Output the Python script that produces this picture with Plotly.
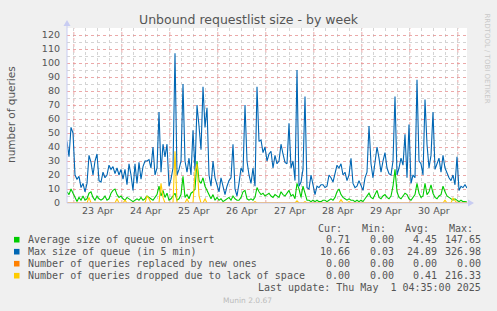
import pandas as pd
import plotly.graph_objects as go

# ---------------- data (hourly samples) ----------------
start_time = "2025-04-22 20:35"
end_time = "2025-05-01 04:35"

avg_queue = [
    8, 6, 10, 7, 3, 1, 4, 2, 5, 2,
    3, 7, 8, 4, 2, 5, 3, 2, 3, 5,
    2, 3, 7, 9, 10, 6, 4, 5, 3, 2,
    4, 3, 2, 1, 2, 3, 2, 4, 2, 3,
    5, 4, 3, 2, 4, 6, 12, 5, 9, 4,
    7, 2, 3, 5, 7, 2, 3, 6, 19, 4,
    6, 3, 7, 8, 10, 30, 16, 14, 18, 12,
    9, 5, 3, 6, 2, 4, 2, 3, 1, 2,
    3, 4, 2, 5, 3, 2, 2, 4, 8, 9,
    3, 2, 3, 2, 4, 11, 8, 6, 7, 5,
    6, 7, 5, 4, 6, 5, 4, 8, 6, 5,
    7, 9, 5, 6, 3, 14, 10, 4, 12, 6,
    2, 2, 1, 2, 1, 2, 1, 1, 2, 2,
    1, 2, 3, 2, 4, 8, 10, 6, 4, 3,
    2, 3, 2, 2, 1, 2, 1, 2, 1, 3,
    5, 7, 4, 3, 6, 9, 4, 3, 5, 6,
    4, 3, 5, 12, 24, 8, 4, 3, 5, 7,
    6, 3, 2, 4, 6, 14, 7, 4, 5, 14,
    6, 8, 13, 7, 4, 3, 5, 6, 12, 8,
    5, 4, 3, 2, 3, 2, 1, 2, 1, 1,
    0.71,
]

max_queue = [
    44, 33, 54, 50, 20, 17, 19, 11, 14, 8,
    14, 34, 29, 20, 30, 35, 16, 15, 22, 18,
    20, 27, 24, 26, 21, 25, 20, 24, 17, 24,
    13, 28, 20, 9, 28, 14, 29, 17, 26, 30,
    30, 31, 25, 40, 20, 25, 65, 22, 42, 33,
    42, 12, 17, 25, 107, 20, 24, 30, 85, 30,
    22, 32, 20, 52, 23, 70, 55, 38, 83, 54,
    68, 20, 12, 30, 18, 12, 8, 18, 12, 6,
    12, 16, 18, 42, 10, 5, 14, 25, 22, 70,
    30, 20, 14, 25, 12, 83, 44, 45, 36, 40,
    30, 35, 37, 25, 34, 28, 30, 42, 35, 29,
    28, 57, 25, 30, 16, 95, 12, 15, 24, 76,
    11, 10, 20, 12, 6, 12, 11, 13, 13, 11,
    12, 20, 18, 15, 22, 27, 25, 28, 20, 22,
    16, 20, 32, 14, 11, 12, 16, 12, 9, 18,
    22, 55, 28, 18, 30, 40, 32, 22, 30, 36,
    25, 21, 20, 30, 76, 20, 25, 32, 27, 49,
    18, 56, 14, 20, 18, 88, 30, 28, 20, 74,
    42, 25, 34, 65, 24, 28, 32, 22, 34, 25,
    21, 18, 16, 20, 13, 33, 9, 12, 11, 13,
    10.66,
]

replaced = [0] * 201

dropped = [
    0, 0, 0, 0, 0, 0, 0, 0, 0, 0,
    0, 4, 0, 0, 0, 0, 0, 0, 0, 0,
    0, 0, 0, 0, 0, 3, 0, 0, 0, 2,
    0, 0, 0, 0, 0, 0, 0, 0, 0, 0,
    5, 3, 0, 0, 0, 0, 0, 14, 4, 0,
    0, 0, 0, 0, 37, 0, 0, 0, 0, 0,
    3, 0, 0, 0, 22, 28, 5, 0, 0, 3,
    0, 0, 0, 0, 0, 0, 0, 0, 0, 0,
    0, 0, 0, 0, 0, 0, 0, 0, 0, 0,
    0, 0, 0, 0, 1, 0, 0, 0, 0, 0,
    0, 0, 0, 0, 0, 0, 0, 0, 0, 0,
    0, 0, 0, 0, 0, 1.5, 0, 0, 0, 1,
    0, 0, 0, 0, 0, 0, 0, 0, 0, 0,
    0, 0, 0, 0, 0, 0, 0, 2.5, 0, 0,
    0, 1, 0, 0, 0, 0, 0, 0, 0, 0,
    0, 0, 0, 0, 0, 0, 0, 0, 0, 0,
    0, 0, 0, 0, 0, 0, 0, 0, 0, 0,
    0, 0, 0, 0, 0, 0, 0, 0, 0, 0,
    0, 0, 0, 0, 0, 0, 0, 0, 0, 2,
    0, 0, 0, 3.5, 2, 0, 0, 0, 0, 0,
    0,
]

day_noons = ["2025-04-23 12:00", "2025-04-24 12:00", "2025-04-25 12:00",
             "2025-04-26 12:00", "2025-04-27 12:00", "2025-04-28 12:00",
             "2025-04-29 12:00", "2025-04-30 12:00"]
day_labels = ["23 Apr", "24 Apr", "25 Apr", "26 Apr", "27 Apr", "28 Apr",
              "29 Apr", "30 Apr"]
midnights = ["2025-04-23", "2025-04-24", "2025-04-25", "2025-04-26",
             "2025-04-27", "2025-04-28", "2025-04-29", "2025-04-30",
             "2025-05-01"]

legend_names = ["Average size of queue on insert",
                "Max size of queue (in 5 min)",
                "Number of queries replaced by new ones",
                "Number of queries dropped due to lack of space"]
legend_colors = ["#00CC00", "#0066B3", "#FF8000", "#FFCC00"]
stat_headers = ["Cur:", "Min:", "Avg:", "Max:"]
stats = [["0.71", "0.00", "4.45", "147.65"],
         ["10.66", "0.03", "24.89", "326.98"],
         ["0.00", "0.00", "0.00", "0.00"],
         ["0.00", "0.00", "0.41", "216.33"]]

# ---------------- figure ----------------
W, H = 497, 311
L, R, T, B = 67, 30, 28, 108
PW, PH = W - L - R, H - T - B


def px(x):
    return (x - L) / PW


def py(y):
    return (H - B - y) / PH


times = pd.date_range(start_time, periods=len(max_queue), freq="h")

fig = go.Figure()
series = [(avg_queue, legend_colors[0]), (max_queue, legend_colors[1]),
          (dropped, legend_colors[3]), (replaced, legend_colors[2])]
for vals, col in series:
    fig.add_trace(go.Scatter(x=times, y=vals, mode="lines",
                             line=dict(color=col, width=1.1),
                             showlegend=False, hoverinfo="skip"))

grey = "#555555"
tickfont = dict(family="DejaVu Sans", size=9.5, color=grey)

fig.update_layout(
    width=W, height=H,
    margin=dict(l=L, r=R, t=T, b=B, pad=0),
    paper_bgcolor="#F0F0F0", plot_bgcolor="#FFFFFF",
    xaxis=dict(type="date", range=[start_time, end_time],
               tickmode="array", tickvals=day_noons, ticktext=day_labels,
               showgrid=False, zeroline=False, showline=False, ticks="",
               tickfont=tickfont,
               minor=dict(tick0="2025-04-23", dtick=6 * 3600 * 1000,
                          showgrid=True, gridcolor="#d4d4d4",
                          griddash="dot", gridwidth=1)),
    yaxis=dict(range=[0, 125], tick0=0, dtick=10, showgrid=True,
               gridcolor="rgba(230,140,140,0.75)", griddash="dot",
               gridwidth=1, zeroline=False, showline=False, ticks="",
               tickfont=tickfont, ticklabelstandoff=6,
               minor=dict(tick0=0, dtick=5, showgrid=True,
                          gridcolor="#d4d4d4", griddash="dot")),
)

shapes = []
for m in midnights:
    shapes.append(dict(type="line", xref="x", yref="paper", x0=m, x1=m,
                       y0=0, y1=1, layer="between",
                       line=dict(color="rgba(230,140,140,0.75)", width=1,
                                 dash="dot")))
axis_col = "#C8CCF2"
# axis lines + arrows
shapes.append(dict(type="line", xref="paper", yref="paper",
                   x0=px(67), x1=px(67), y0=py(203), y1=py(24),
                   line=dict(color=axis_col, width=1)))
shapes.append(dict(type="line", xref="paper", yref="paper",
                   x0=px(67), x1=px(470), y0=py(203), y1=py(203),
                   line=dict(color=axis_col, width=1)))
shapes.append(dict(type="path", xref="paper", yref="paper",
                   path=f"M {px(63.5)},{py(26)} L {px(67)},{py(20)} L {px(70.5)},{py(26)} Z",
                   fillcolor=axis_col, line=dict(width=0)))
shapes.append(dict(type="path", xref="paper", yref="paper",
                   path=f"M {px(468)},{py(199.5)} L {px(474)},{py(203)} L {px(468)},{py(206.5)} Z",
                   fillcolor=axis_col, line=dict(width=0)))

ann = []
ann.append(dict(text="Unbound requestlist size - by week", x=px(248.5), y=py(19.5),
                xref="paper", yref="paper", showarrow=False,
                xanchor="center", yanchor="middle",
                font=dict(family="DejaVu Sans", size=12.5, color=grey)))
ann.append(dict(text="number of queries", x=px(11), y=py(114),
                xref="paper", yref="paper", showarrow=False, textangle=-90,
                xanchor="center", yanchor="middle",
                font=dict(family="DejaVu Sans", size=10.5, color=grey)))
ann.append(dict(text="RRDTOOL / TOBI OETIKER", x=px(487), y=py(58.5),
                xref="paper", yref="paper", showarrow=False, textangle=90,
                xanchor="center", yanchor="middle",
                font=dict(family="DejaVu Sans", size=7, color="#C8C8C8")))

mono = dict(family="DejaVu Sans Mono", size=10, color=grey)
header_x = [316, 360, 403, 447]
for hx, htxt in zip(header_x, stat_headers):
    ann.append(dict(text=htxt, x=px(hx), y=py(228.3), xref="paper", yref="paper",
                    showarrow=False, xanchor="left", yanchor="middle", font=mono))
row_y = [239.7, 251.7, 263.7, 275.7]
stat_right = [352, 396, 439, 482.5]
for name, col, ry, vals in zip(legend_names, legend_colors, row_y, stats):
    shapes.append(dict(type="rect", xref="paper", yref="paper",
                       x0=px(14), x1=px(19.5), y0=py(ry - 2.8), y1=py(ry + 2.8),
                       fillcolor=col, line=dict(width=0)))
    ann.append(dict(text=name, x=px(26), y=py(ry), xref="paper", yref="paper",
                    showarrow=False, xanchor="left", yanchor="middle", font=mono))
    for sx, v in zip(stat_right, vals):
        ann.append(dict(text=v, x=px(sx), y=py(ry), xref="paper", yref="paper",
                        showarrow=False, xanchor="right", yanchor="middle",
                        font=mono))
ann.append(dict(text="Last update: Thu May\u00a0\u00a01 04:35:00 2025",
                x=px(482.5), y=py(287.3), xref="paper", yref="paper",
                showarrow=False, xanchor="right", yanchor="middle", font=mono))
ann.append(dict(text="Munin 2.0.67", x=px(247.7), y=py(300),
                xref="paper", yref="paper", showarrow=False,
                xanchor="center", yanchor="middle",
                font=dict(family="DejaVu Sans", size=7.5, color="#BBBBBB")))

fig.update_layout(shapes=shapes, annotations=ann)
fig.write_html("out.html")
